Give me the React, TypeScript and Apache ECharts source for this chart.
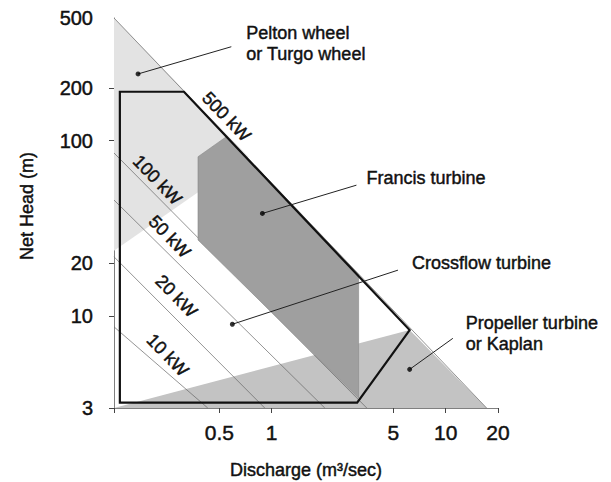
import React, { useEffect, useRef } from "react";
import * as echarts from "echarts";

// Axis ranges and tick values (discharge Q in m3/s, net head H in m)
const xRange = [0.124, 20];
const yRange = [3, 500];
const xTickValues = [0.5, 1, 5, 10, 20];
const yTickValues = [3, 10, 20, 100, 200, 500];
const yTickMarks = [3, 10, 20, 100, 200];

// Regions, [Q, H] vertices
const envelopeLine = [[0.124, 500], [17.2, 3]];
const peltonRegion = [[0.124, 500], [0.124, 23.6], [0.738, 80.8]];
const propellerRegion = [[0.124, 3], [6.21, 8.34], [17.2, 3]];
const francisRegion = [[0.377, 81], [0.549, 105.4], [3.16, 17.2], [3.16, 3.42], [0.377, 27.2]];
const crossflowOutline = [[0.134, 190], [0.313, 190], [6.21, 8.34], [3.1, 3.22], [0.134, 3.22]];

// Constant power lines
const powerLines = [
  [[0.124, 8.7], [0.429, 3]],
  [[0.124, 21.8], [0.912, 3]],
  [[0.124, 45.9], [2.02, 3]],
  [[0.124, 85.1], [3.52, 3]],
];
const powerLabels = ["10 kW", "20 kW", "50 kW", "100 kW", "500 kW"];
const powerLabelPositions = [[0.252, 6.0], [0.283, 13.0], [0.259, 28.4], [0.22, 59.7], [0.549, 137]];

// Turbine annotations
const turbineNames = [
  "Pelton wheel\nor Turgo wheel",
  "Francis turbine",
  "Crossflow turbine",
  "Propeller turbine\nor Kaplan",
];
const turbineDots = [[0.1705, 240], [0.884, 38.5], [0.594, 9.0], [6.21, 4.98]];
const turbineLabelAnchors = [[0.586, 343], [3.07, 55.8], [5.32, 18.3], [11.0, 7.48]];
const turbineLabelOffsets = [[15, -3], [10, -7], [14, -7], [13, -5]];

const FONT = '"Liberation Sans", Arial, Helvetica, sans-serif';
const INK = "#111";
const BOLDEN = 0.45;
const lg = Math.log10;
const P = (p: number[]) => [lg(p[0]), lg(p[1])];
const fmt = (v: number) => String(Math.round(Math.pow(10, v) * 10) / 10);

function polygonSeries(pts: number[][], style: any, z: number) {
  return {
    type: "custom",
    z,
    silent: true,
    clip: false,
    data: [P(pts[0])],
    renderItem: (_p: any, api: any) => ({
      type: "polygon",
      shape: { points: pts.map((p) => api.coord(P(p))) },
      style,
    }),
  };
}

function polylineSeries(lines: number[][][], style: any, z: number) {
  return {
    type: "custom",
    z,
    silent: true,
    clip: false,
    data: lines.map((l) => P(l[0])),
    renderItem: (params: any, api: any) => ({
      type: "polyline",
      shape: { points: lines[params.dataIndex].map((p) => api.coord(P(p))) },
      style: { fill: "none", ...style },
    }),
  };
}

const textBase = {
  color: INK,
  fontFamily: FONT,
  textBorderColor: INK,
  textBorderWidth: BOLDEN,
};

const option: any = {
  animation: false,
  grid: { left: 114, right: 113, top: 18, bottom: 74, containLabel: false, outerBoundsMode: "none" },
  xAxis: {
    type: "value",
    min: lg(xRange[0]),
    max: lg(xRange[1]),
    splitLine: { show: false },
    axisLine: { show: true, onZero: false, lineStyle: { color: "#808080", width: 1 } },
    axisTick: {
      show: true,
      customValues: [lg(xRange[0]), ...xTickValues.map(lg)],
      length: 5,
      lineStyle: { color: "#444" },
    },
    axisLabel: {
      ...textBase,
      customValues: xTickValues.map(lg),
      formatter: fmt,
      fontSize: 21,
      margin: 14,
      showMinLabel: true,
      showMaxLabel: true,
    },
    name: "Discharge (m³/sec)",
    nameLocation: "middle",
    nameGap: 53,
    nameTextStyle: { ...textBase, fontSize: 18 },
  },
  yAxis: {
    type: "value",
    min: lg(yRange[0]),
    max: lg(yRange[1]),
    splitLine: { show: false },
    axisLine: { show: true, onZero: false, lineStyle: { color: "#808080", width: 1 } },
    axisTick: {
      show: true,
      customValues: yTickMarks.map(lg),
      length: 5,
      lineStyle: { color: "#444" },
    },
    axisLabel: {
      ...textBase,
      customValues: yTickValues.map(lg),
      formatter: fmt,
      fontSize: 20,
      margin: 21,
      showMinLabel: true,
      showMaxLabel: true,
    },
    name: "Net Head (m)",
    nameLocation: "middle",
    nameGap: 78,
    nameRotate: 90,
    nameTextStyle: { ...textBase, fontSize: 18, padding: [0, 0, 0, 14] },
  },
  series: [
    polygonSeries(peltonRegion, { fill: "#e3e3e3" }, 1),
    polygonSeries(propellerRegion, { fill: "#c3c3c3" }, 1),
    polylineSeries(powerLines, { stroke: "#666", lineWidth: 0.7 }, 2),
    polygonSeries(francisRegion, { fill: "#9f9f9f", stroke: "#888", lineWidth: 0.6 }, 3),
    polylineSeries([envelopeLine], { stroke: "#777", lineWidth: 0.8 }, 4),
    polygonSeries(crossflowOutline, { fill: "none", stroke: "#111", lineWidth: 2.2, lineJoin: "miter" }, 5),
    polylineSeries(
      turbineDots.map((d, i) => [d, turbineLabelAnchors[i]]),
      { stroke: "#222", lineWidth: 1 },
      6
    ),
    {
      type: "scatter",
      z: 7,
      silent: true,
      symbol: "circle",
      symbolSize: 5,
      itemStyle: { color: "#000" },
      data: turbineDots.map(P),
    },
    {
      type: "custom",
      z: 8,
      silent: true,
      clip: false,
      data: powerLabelPositions.map(P),
      renderItem: (params: any, api: any) => {
        const c = api.coord(P(powerLabelPositions[params.dataIndex]));
        return {
          type: "text",
          x: c[0],
          y: c[1],
          rotation: (-46 * Math.PI) / 180,
          style: {
            text: powerLabels[params.dataIndex],
            fill: INK,
            stroke: INK,
            lineWidth: BOLDEN,
            fontSize: 18,
            fontFamily: FONT,
            align: "center",
            verticalAlign: "middle",
            textAlign: "center",
            textVerticalAlign: "middle",
          },
        };
      },
    },
    {
      type: "custom",
      z: 8,
      silent: true,
      clip: false,
      data: turbineLabelAnchors.map(P),
      renderItem: (params: any, api: any) => {
        const i = params.dataIndex;
        const c = api.coord(P(turbineLabelAnchors[i]));
        return {
          type: "text",
          x: c[0] + turbineLabelOffsets[i][0],
          y: c[1] + turbineLabelOffsets[i][1],
          style: {
            text: turbineNames[i],
            fill: INK,
            stroke: INK,
            lineWidth: BOLDEN,
            fontSize: 18,
            lineHeight: 21,
            fontFamily: FONT,
            align: "left",
            verticalAlign: "middle",
            textAlign: "left",
            textVerticalAlign: "middle",
          },
        };
      },
    },
  ],
};

export default function App() {
  const ref = useRef<HTMLDivElement>(null);
  useEffect(() => {
    const chart = echarts.init(ref.current as HTMLDivElement, null, { renderer: "svg" });
    chart.setOption(option);
    return () => chart.dispose();
  }, []);
  return (
    <div
      ref={ref}
      style={{ position: "absolute", left: 0, top: 0, width: 611, height: 482, background: "#fff" }}
    />
  );
}
